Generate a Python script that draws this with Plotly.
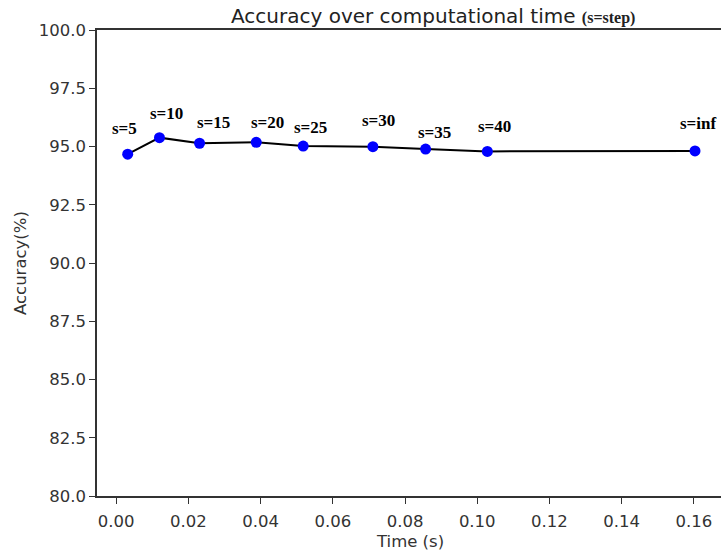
import plotly.graph_objects as go

# Data
labels = ["s=5", "s=10", "s=15", "s=20", "s=25", "s=30", "s=35", "s=40", "s=inf"]
time_s = [0.0032, 0.0120, 0.0231, 0.0388, 0.0518, 0.0711, 0.0857, 0.1028, 0.1603]
accuracy = [94.67, 95.38, 95.14, 95.18, 95.02, 94.99, 94.89, 94.79, 94.81]
x_ticks = [0.00, 0.02, 0.04, 0.06, 0.08, 0.10, 0.12, 0.14, 0.16]
y_ticks = [80.0, 82.5, 85.0, 87.5, 90.0, 92.5, 95.0, 97.5, 100.0]

# label offsets in pixels (style)
label_dx = [-3, 7, 14, 11, 7, 6, 9, 7, 3]
label_dy = [26, 24, 21, 20, 19, 26, 17, 25, 27]

fig = go.Figure()
fig.add_trace(go.Scatter(
    x=time_s, y=accuracy, mode="lines+markers",
    line=dict(color="black", width=2),
    marker=dict(color="#0000ff", size=11),
    showlegend=False, cliponaxis=False,
))

serif = "Liberation Serif, Times New Roman, serif"
for lab, xv, yv, dx, dy in zip(labels, time_s, accuracy, label_dx, label_dy):
    fig.add_annotation(
        x=xv, y=yv, xref="x", yref="y", text="<b>%s</b>" % lab,
        showarrow=False, xshift=dx, yshift=dy,
        font=dict(family=serif, size=17, color="black"),
    )

fig.add_annotation(
    x=(229 - 97) / 624, y=1 + 14 / 466, xref="paper", yref="paper",
    xanchor="left", yanchor="middle", showarrow=False,
    text="Accuracy over computational time <span style='font-family:Liberation Serif;font-size:16px'><b>(s=step)</b></span>",
    font=dict(family="DejaVu Sans", size=20, color="#222"),
)

axis_font = dict(family="DejaVu Sans", size=16.5, color="#333")

fig.add_annotation(
    x=(410 - 97) / 624, y=(496 - 541) / 466, xref="paper", yref="paper",
    xanchor="center", yanchor="middle", showarrow=False,
    text="Time (s)", font=axis_font,
)
fig.add_annotation(
    x=(20 - 97) / 624, y=0.5, xref="paper", yref="paper",
    xanchor="center", yanchor="middle", showarrow=False, textangle=-90,
    text="Accuracy(%)", font=axis_font,
)

fig.update_layout(
    width=721, height=553,
    margin=dict(l=97, r=0, t=30, b=57),
    paper_bgcolor="white", plot_bgcolor="white",
    xaxis=dict(
        range=[-0.0053, 0.1675], tickvals=x_ticks, tickformat=".2f",
        showgrid=False, zeroline=False, showline=True, linecolor="#333",
        linewidth=1.5, mirror=True, ticks="outside", ticklen=6, tickcolor="#333",
        tickfont=axis_font, automargin=False, ticklabelstandoff=3,
    ),
    yaxis=dict(
        range=[80, 100], tickvals=y_ticks, tickformat=".1f",
        showgrid=False, zeroline=False, showline=True, linecolor="#333",
        linewidth=1.5, mirror=False, ticks="outside", ticklen=6, tickcolor="#333",
        tickfont=axis_font, automargin=False,
    ),
)

fig.write_html(
    "out.html",
    config={"displayModeBar": False},
    post_script="document.body.style.margin='0';document.body.style.overflow='hidden';",
)
